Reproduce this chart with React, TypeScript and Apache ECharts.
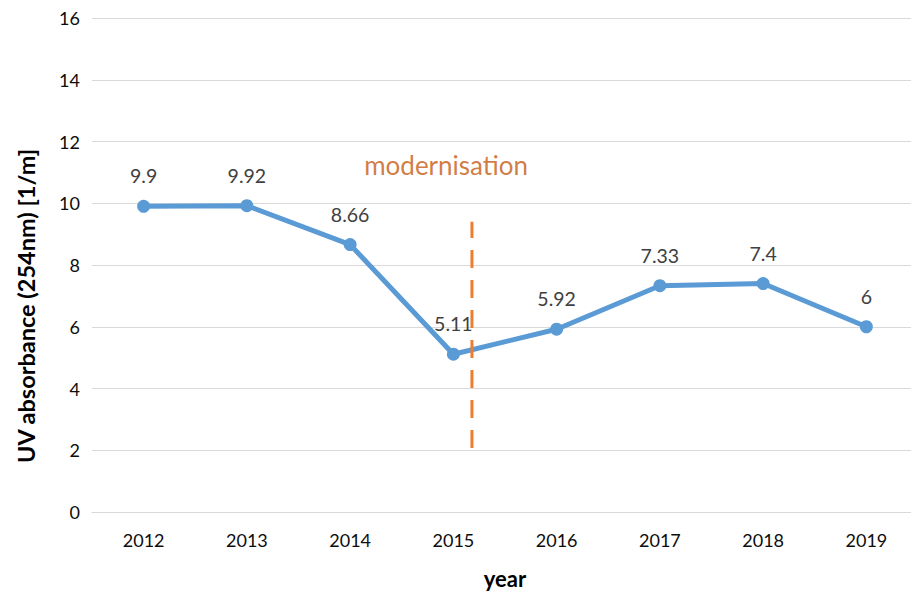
import React, { useEffect, useRef } from "react";
import * as echarts from "echarts";

const years = ["2012", "2013", "2014", "2015", "2016", "2017", "2018", "2019"];
const uvValues = [9.9, 9.92, 8.66, 5.11, 5.92, 7.33, 7.4, 6];
const markerLine: [number, number][] = [
  [2015.18, 2.07],
  [2015.18, 9.4],
];
const markerText: [number, number][] = [[2014.93, 11.25]];
const markerLabel = "modernisation";

const FONT = "Lato, 'Open Sans', sans-serif";

export default function App() {
  const ref = useRef<HTMLDivElement>(null);
  useEffect(() => {
    if (!ref.current) return;
    const chart = echarts.init(ref.current, null, { renderer: "svg" });
    chart.setOption({
      animation: false,
      textStyle: { fontFamily: FONT },
      grid: { left: 92, right: 1, top: 18, bottom: 80, containLabel: false, outerBoundsMode: "none" },
      xAxis: [
        {
          type: "category",
          data: years,
          boundaryGap: true,
          axisLine: { show: true, lineStyle: { color: "#D9D9D9", width: 1 } },
          axisTick: { show: false },
          axisLabel: { color: "#0d0d0d", fontSize: 18, margin: 19, fontFamily: FONT },
          name: "year",
          nameLocation: "middle",
          nameGap: 55,
          nameTextStyle: { fontSize: 22, fontWeight: "bold", color: "#000", fontFamily: FONT },
        },
        {
          type: "value",
          min: 2011.5,
          max: 2019.5,
          show: false,
        },
      ],
      yAxis: {
        type: "value",
        min: 0,
        max: 16,
        interval: 2,
        axisLine: { show: false },
        axisTick: { show: false },
        splitLine: { lineStyle: { color: "#D9D9D9", width: 1 } },
        axisLabel: { color: "#0d0d0d", fontSize: 18, margin: 12, fontFamily: FONT },
        name: "UV absorbance (254nm) [1/m]",
        nameLocation: "middle",
        nameGap: 54,
        nameTextStyle: {
          fontSize: 23.5,
          fontWeight: "bold",
          color: "#000",
          fontFamily: FONT,
          padding: [0, 82, 0, 0],
        },
      },
      series: [
        {
          type: "line",
          data: uvValues,
          xAxisIndex: 0,
          lineStyle: { color: "#5B9BD5", width: 5 },
          itemStyle: { color: "#5B9BD5" },
          symbol: "circle",
          symbolSize: 13,
          label: {
            show: true,
            position: "top",
            distance: 14,
            fontSize: 19.5,
            color: "#404040",
            fontFamily: FONT,
          },
          z: 3,
        },
        {
          type: "line",
          xAxisIndex: 1,
          data: markerLine,
          symbol: "none",
          lineStyle: { color: "#ED7D31", width: 3, type: [18, 12] },
          z: 4,
        },
        {
          type: "scatter",
          xAxisIndex: 1,
          data: markerText,
          symbolSize: 0,
          label: {
            show: true,
            position: "inside",
            formatter: markerLabel,
            fontSize: 26,
            color: "#C55A11",
            fontFamily: FONT,
          },
        },
      ],
    });
    return () => chart.dispose();
  }, []);
  return <div ref={ref} style={{ width: 919, height: 592, marginLeft: -8, marginTop: -8 }} />;
}
